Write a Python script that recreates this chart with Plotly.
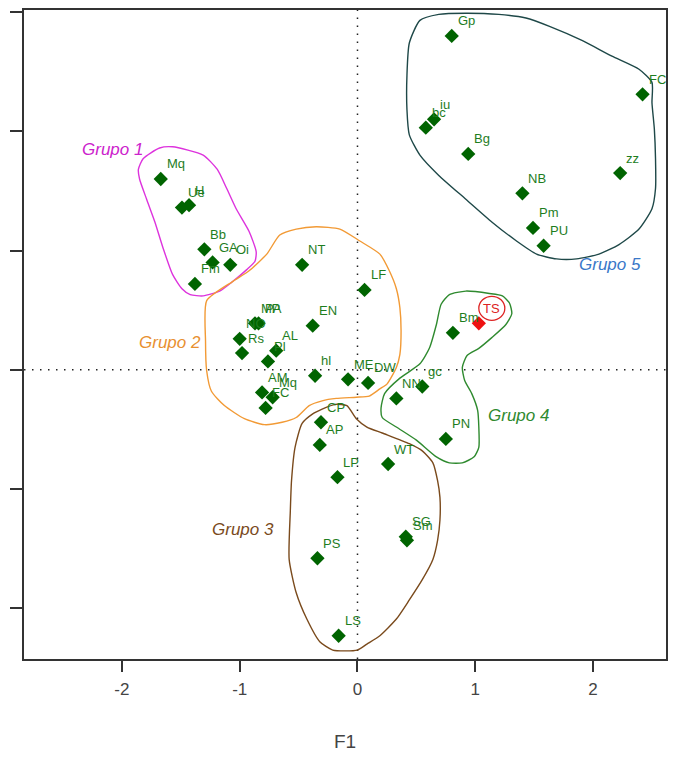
import plotly.graph_objects as go

# ---------------- data (F1, F2 scores) ----------------
g1_labels = ["Mq", "Ue", "H", "Bb", "GA", "Oi", "Fm"]
g1_x = [-1.67, -1.49, -1.43, -1.30, -1.23, -1.08, -1.38]
g1_y = [1.60, 1.36, 1.38, 1.01, 0.90, 0.88, 0.72]

g2_labels = ["NT", "LF", "EN", "MP", "PA", "NO", "Rs", "AL", "Pl", "hl", "ME", "DW", "AM", "Mq", "FC"]
g2_x = [-0.47, 0.06, -0.38, -0.87, -0.84, -1.00, -0.98, -0.69, -0.76, -0.36, -0.08, 0.09, -0.81, -0.72, -0.78]
g2_y = [0.88, 0.67, 0.37, 0.39, 0.39, 0.26, 0.14, 0.16, 0.07, -0.05, -0.08, -0.11, -0.19, -0.23, -0.32]

g3_labels = ["CP", "AP", "LP", "WT", "SG", "Sm", "PS", "LS"]
g3_x = [-0.31, -0.32, -0.17, 0.26, 0.41, 0.42, -0.34, -0.16]
g3_y = [-0.44, -0.63, -0.90, -0.79, -1.40, -1.43, -1.58, -2.23]

g4_labels = ["Bm", "gc", "NN", "PN"]
g4_x = [0.81, 0.55, 0.33, 0.75]
g4_y = [0.31, -0.14, -0.24, -0.58]

g5_labels = ["Gp", "FC", "iu", "bc", "Bg", "zz", "NB", "Pm", "PU"]
g5_x = [0.80, 2.42, 0.65, 0.58, 0.94, 2.23, 1.40, 1.49, 1.58]
g5_y = [2.80, 2.31, 2.10, 2.03, 1.81, 1.65, 1.48, 1.19, 1.04]

ts_label = "TS"
ts_x = 1.03
ts_y = 0.39

# group contours (data units)
c1_x = [-1.82, -1.68, -1.57, -1.31, -1.19, -1.11, -1.03, -0.92, -0.86, -0.87, -0.94, -1.06, -1.17, -1.31, -1.42, -1.49, -1.57, -1.65, -1.72, -1.79, -1.85, -1.86, -1.82]
c1_y = [1.77, 1.86, 1.87, 1.80, 1.68, 1.52, 1.35, 1.16, 0.99, 0.91, 0.84, 0.74, 0.66, 0.62, 0.63, 0.68, 0.80, 1.02, 1.24, 1.43, 1.60, 1.68, 1.77]

c2_x = [-1.28, -1.06, -0.92, -0.77, -0.66, -0.52, -0.35, -0.15, 0.02, 0.19, 0.27, 0.33, 0.36, 0.37, 0.36, 0.33, 0.25, 0.19, 0.10, -0.01, -0.18, -0.30, -0.41, -0.52, -0.64, -0.79, -0.96, -1.13, -1.24, -1.28, -1.29, -1.28]
c2_y = [0.58, 0.74, 0.83, 0.97, 1.13, 1.18, 1.20, 1.18, 1.08, 0.97, 0.83, 0.68, 0.52, 0.33, 0.13, 0.02, -0.12, -0.16, -0.22, -0.23, -0.24, -0.26, -0.30, -0.40, -0.44, -0.46, -0.41, -0.30, -0.18, -0.01, 0.24, 0.58]

c3_x = [-0.09, -0.01, 0.08, 0.21, 0.44, 0.55, 0.64, 0.68, 0.70, 0.70, 0.68, 0.64, 0.55, 0.44, 0.33, 0.19, 0.08, 0.00, -0.21, -0.32, -0.43, -0.52, -0.58, -0.57, -0.56, -0.53, -0.47, -0.38, -0.30, -0.19, -0.09]
c3_y = [-0.30, -0.41, -0.48, -0.53, -0.62, -0.68, -0.78, -0.93, -1.07, -1.26, -1.43, -1.59, -1.76, -1.93, -2.09, -2.23, -2.30, -2.35, -2.35, -2.28, -2.09, -1.87, -1.59, -1.18, -0.93, -0.65, -0.45, -0.37, -0.33, -0.29, -0.30]

c4_x = [0.78, 0.92, 1.12, 1.23, 1.29, 1.31, 1.26, 1.14, 1.03, 0.93, 0.89, 0.91, 0.97, 1.02, 1.03, 1.03, 0.99, 0.89, 0.78, 0.67, 0.50, 0.33, 0.21, 0.20, 0.23, 0.36, 0.53, 0.61, 0.67, 0.71, 0.78]
c4_y = [0.63, 0.66, 0.64, 0.62, 0.56, 0.47, 0.38, 0.27, 0.18, 0.12, 0.02, -0.09, -0.20, -0.34, -0.48, -0.65, -0.73, -0.78, -0.78, -0.73, -0.59, -0.48, -0.40, -0.32, -0.20, -0.07, 0.05, 0.18, 0.38, 0.55, 0.63]

c5_x = [0.53, 0.69, 0.92, 1.20, 1.43, 1.63, 1.91, 2.16, 2.39, 2.50, 2.50, 2.52, 2.53, 2.53, 2.50, 2.39, 2.22, 2.05, 1.86, 1.69, 1.52, 1.35, 1.14, 0.92, 0.69, 0.53, 0.44, 0.42, 0.42, 0.44, 0.53]
c5_y = [2.93, 2.98, 2.99, 2.98, 2.95, 2.88, 2.76, 2.63, 2.52, 2.41, 2.24, 2.02, 1.77, 1.52, 1.35, 1.18, 1.05, 0.97, 0.93, 0.93, 0.97, 1.08, 1.24, 1.43, 1.63, 1.80, 1.97, 2.18, 2.47, 2.74, 2.93]

group_names = ["Grupo 1", "Grupo 2", "Grupo 3", "Grupo 4", "Grupo 5"]
group_label_x = [-2.08, -1.59, -0.97, 1.37, 2.14]
group_label_y = [1.85, 0.23, -1.34, -0.38, 0.88]

x_ticks = [-2, -1, 0, 1, 2]
x_tick_text = ["-2", "-1", "0", "1", "2"]
y_ticks = [-2, -1, 0, 1, 2, 3]

# ---------------- styles ----------------
contour_colors = ["#DD33DD", "#F29A35", "#7A4A1C", "#2F8A2F", "#1E4848"]
group_text_colors = ["#CC22CC", "#E89030", "#7A4A1C", "#2F8A2F", "#3A78C8"]
pt_color = "#006400"
lbl_color = "#1E7D1E"
font_fam = "Liberation Sans, Arial, sans-serif"

fig = go.Figure()

contours = [(c1_x, c1_y), (c2_x, c2_y), (c3_x, c3_y), (c4_x, c4_y), (c5_x, c5_y)]
for (cx, cy), col in zip(contours, contour_colors):
    fig.add_trace(go.Scatter(x=cx, y=cy, mode="lines",
                             line=dict(color=col, width=1.4, shape="spline", smoothing=0.6),
                             hoverinfo="skip", showlegend=False))

all_labels = g1_labels + g2_labels + g3_labels + g4_labels + g5_labels
all_x = g1_x + g2_x + g3_x + g4_x + g5_x
all_y = g1_y + g2_y + g3_y + g4_y + g5_y

fig.add_trace(go.Scatter(x=all_x, y=all_y, mode="markers", text=all_labels,
                         marker=dict(symbol="diamond", size=11, color=pt_color),
                         showlegend=False))
fig.add_trace(go.Scatter(x=[ts_x], y=[ts_y], mode="markers", text=[ts_label],
                         marker=dict(symbol="diamond", size=11, color="#EE1111"),
                         showlegend=False))

annotations = []
for lab, xv, yv in zip(all_labels, all_x, all_y):
    annotations.append(dict(x=xv, y=yv, text=lab, showarrow=False,
                            xanchor="left", yanchor="middle", xshift=4, yshift=15,
                            font=dict(family=font_fam, size=13, color=lbl_color)))
annotations.append(dict(x=ts_x, y=ts_y, text=ts_label, showarrow=False,
                        xanchor="center", yanchor="middle", xshift=13, yshift=15,
                        font=dict(family=font_fam, size=13, color="#DD2222")))
for name, gx, gy, col in zip(group_names, group_label_x, group_label_y, group_text_colors):
    annotations.append(dict(x=gx, y=gy, text="<i>" + name + "</i>", showarrow=False,
                            xanchor="center", yanchor="middle",
                            font=dict(family=font_fam, size=17, color=col)))

shapes = [
    dict(type="line", xref="paper", yref="y", x0=0, x1=1, y0=0, y1=0,
         line=dict(color="#222222", width=1.5, dash="1.5px,6.5px"), layer="below"),
    dict(type="line", xref="x", yref="paper", x0=0, x1=0, y0=0, y1=1,
         line=dict(color="#222222", width=1.5, dash="1.5px,6.5px"), layer="below"),
    dict(type="circle", xref="x", yref="y", xsizemode="pixel", ysizemode="pixel",
         xanchor=ts_x, yanchor=ts_y, x0=0, x1=26, y0=3, y1=27,
         line=dict(color="#DD2222", width=1.3)),
]

fig.update_layout(
    width=660, height=744,
    margin=dict(l=16, r=1, t=0, b=92),
    paper_bgcolor="white", plot_bgcolor="white",
    annotations=annotations, shapes=shapes,
    showlegend=False,
    font=dict(family=font_fam),
)
fig.update_xaxes(range=[-2.831, 2.619], tickvals=x_ticks, ticktext=x_tick_text,
                 showgrid=False, zeroline=False,
                 showline=True, mirror=True, linecolor="#333333", linewidth=1.5,
                 ticks="outside", ticklen=11, tickwidth=1.5, tickcolor="#333333",
                 ticklabelstandoff=3,
                 tickfont=dict(size=17, color="#444444", family=font_fam),
                 title=dict(text="F1", font=dict(size=19, color="#444444", family=font_fam), standoff=40))
fig.update_yaxes(range=[-2.425, 3.017], tickvals=y_ticks, showgrid=False, zeroline=False,
                 showline=True, mirror=True, linecolor="#333333", linewidth=1.5,
                 ticks="outside", ticklen=12, tickwidth=1.5, tickcolor="#333333",
                 showticklabels=False)

fig.write_html("out.html")
